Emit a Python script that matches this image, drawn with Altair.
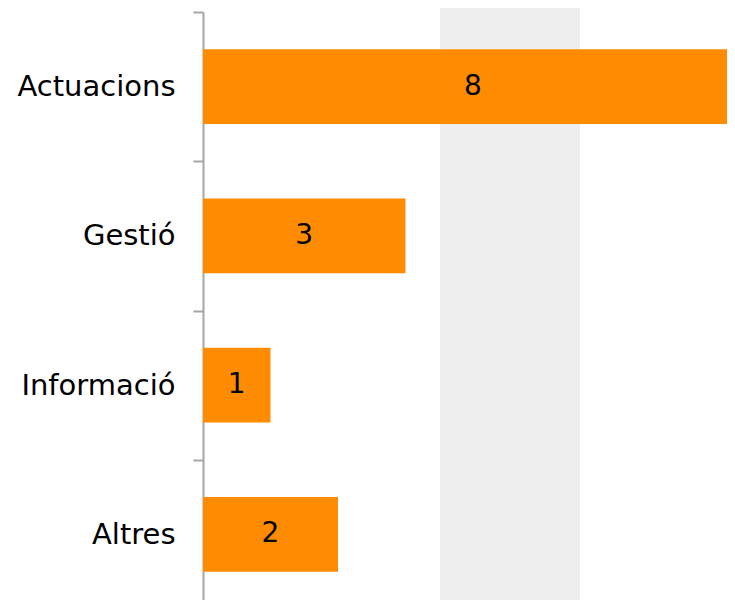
import altair as alt
import pandas as pd

categories = ["Actuacions", "Gestió", "Informació", "Altres"]
values = [8, 3, 1, 2]

df = pd.DataFrame({"cat": categories, "value": values})

FONT = "DejaVu Sans"

y_enc = alt.Y("cat:N", sort=categories,
              scale=alt.Scale(range=[0, 597], paddingInner=0, paddingOuter=0),
              axis=alt.Axis(title=None, domainColor="#A6A6A6", domainWidth=2,
                            tickColor="#A6A6A6", tickWidth=2, tickSize=10,
                            tickBand="extent", labelPadding=18, labelFontSize=29,
                            labelFont=FONT, labelColor="#000000", labelLimit=300))
x_scale = alt.Scale(domain=[0, 8], range=[0, 540])

bg = alt.Chart(pd.DataFrame({"a": [0]})).mark_rect(color="#EEEEEE").encode(
    x=alt.value(237), x2=alt.value(377), y=alt.value(-4), y2=alt.value(596))

base = alt.Chart(df)
bars = base.mark_bar(color="#FF8C00", height=alt.RelativeBandSize(0.5)).encode(
    x=alt.X("value:Q", scale=x_scale, axis=None), y=y_enc)
labels = base.transform_calculate(mid="datum.value / 2").mark_text(
    fontSize=28, font=FONT, color="#000000", baseline="middle", align="center"
).encode(x=alt.X("mid:Q", scale=x_scale, axis=None), y=y_enc, text="value:Q")

chart = alt.layer(bg, bars, labels).properties(
    width=524, height=588,
    autosize=alt.AutoSizeParams(type="none"),
    padding={"left": 195, "top": 4, "right": 0, "bottom": 0},
).configure(background="white").configure_view(stroke=None)

chart.save("out.html", embed_options={"renderer": "svg", "actions": False})
